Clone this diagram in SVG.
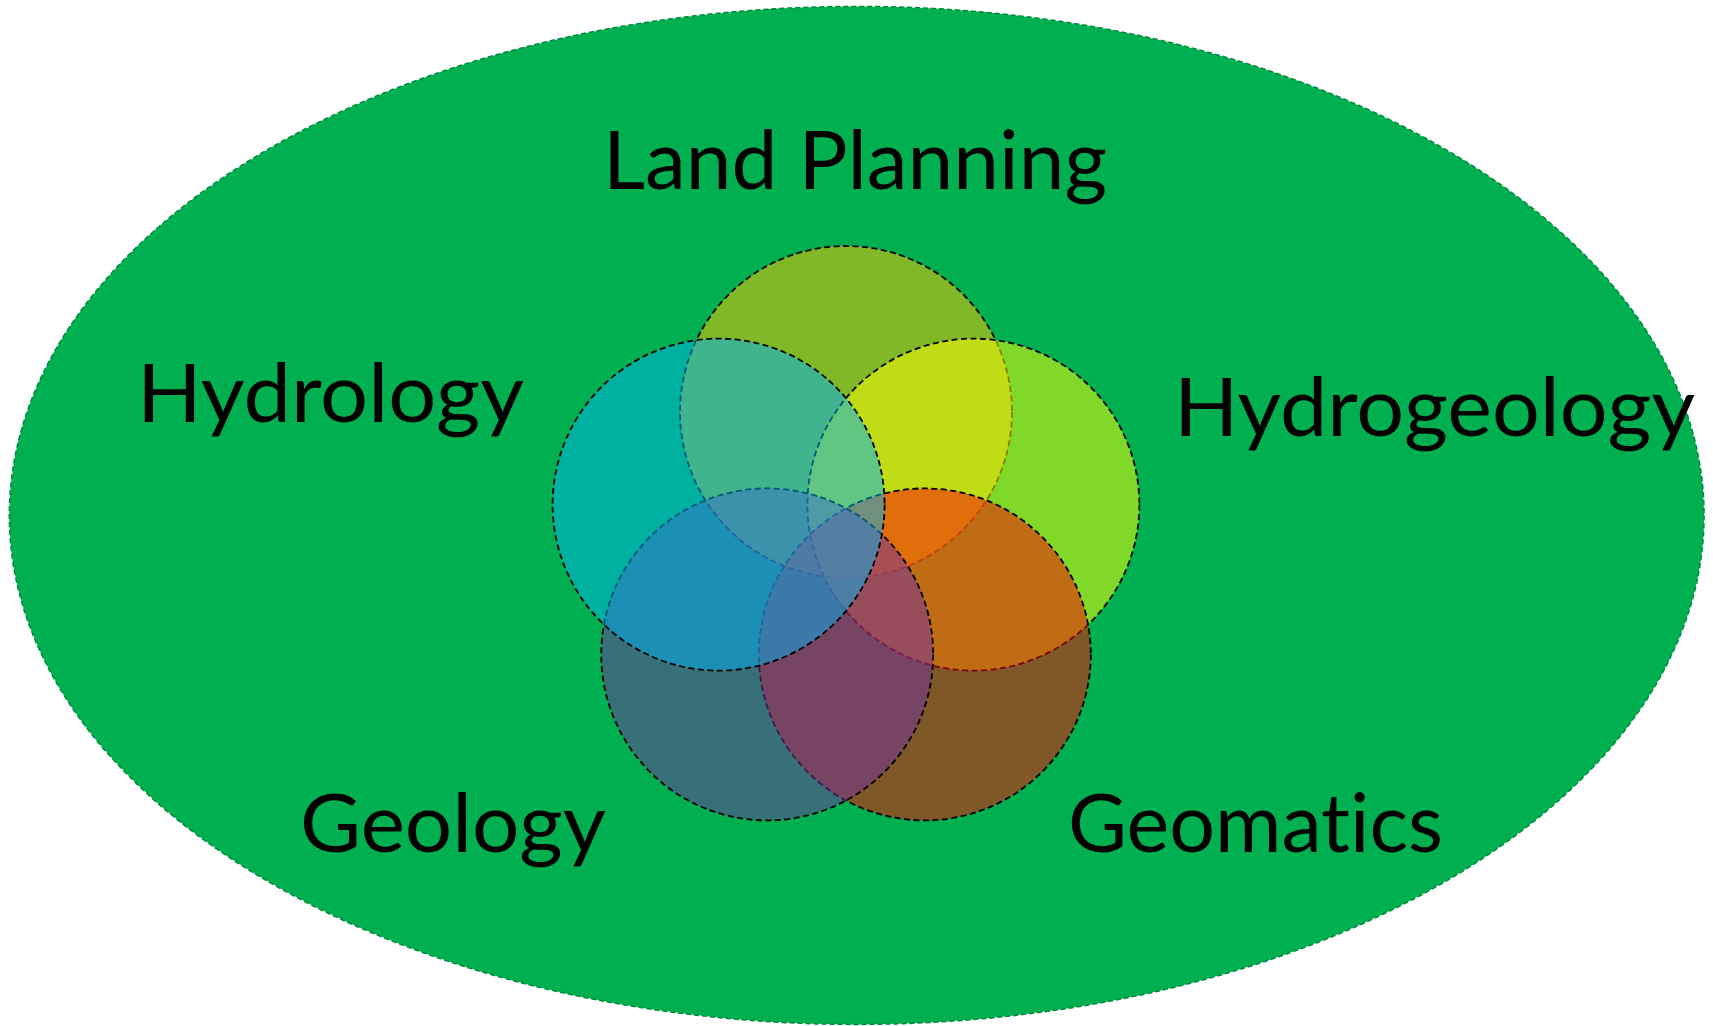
<svg xmlns="http://www.w3.org/2000/svg" width="1713" height="1026" viewBox="0 0 1713 1026">
  <style>
    .field { fill: #00B050; stroke: #008A3E; stroke-width: 1.5; stroke-dasharray: 5 3; }
    .disc { fill-opacity: 0.5; stroke: #000000; stroke-width: 1.8; stroke-dasharray: 6 3.5; }
    .label { font-family: Lato, "Open Sans", "Liberation Sans", sans-serif; font-size: 82px; fill: #000000; font-variant-ligatures: none; }
  </style>
  <rect width="1713" height="1026" fill="#FFFFFF"/>

  <!-- outer field -->
  <g id="field">
    <ellipse class="field" cx="856.7" cy="515.4" rx="847.4" ry="509"/>
  </g>

  <!-- five overlapping disciplines, drawn in stacking order -->
  <g id="land-planning">
    <circle class="disc" cx="846" cy="412" r="166" fill="#FFC000"/>
  </g>
  <g id="hydrogeology">
    <circle class="disc" cx="973.4" cy="504.6" r="166" fill="#FFFF00"/>
  </g>
  <g id="geomatics">
    <circle class="disc" cx="924.8" cy="654.4" r="166" fill="#FF0000"/>
  </g>
  <g id="geology">
    <circle class="disc" cx="767.2" cy="654.4" r="166" fill="#7030A0"/>
  </g>
  <g id="hydrology">
    <circle class="disc" cx="718.6" cy="504.6" r="166" fill="#00B0F0"/>
  </g>

  <g id="connectors"/>

  <!-- labels -->
  <g id="labels">
    <text class="label" x="603" y="189" textLength="504" lengthAdjust="spacingAndGlyphs">Land Planning</text>
    <text class="label" x="137" y="422" textLength="387" lengthAdjust="spacingAndGlyphs">Hydrology</text>
    <text class="label" x="1174" y="436" textLength="521" lengthAdjust="spacingAndGlyphs">Hydrogeology</text>
    <text class="label" x="300" y="852" textLength="306" lengthAdjust="spacingAndGlyphs">Geology</text>
    <text class="label" x="1068" y="852" textLength="375" lengthAdjust="spacingAndGlyphs">Geomatics</text>
  </g>
</svg>
